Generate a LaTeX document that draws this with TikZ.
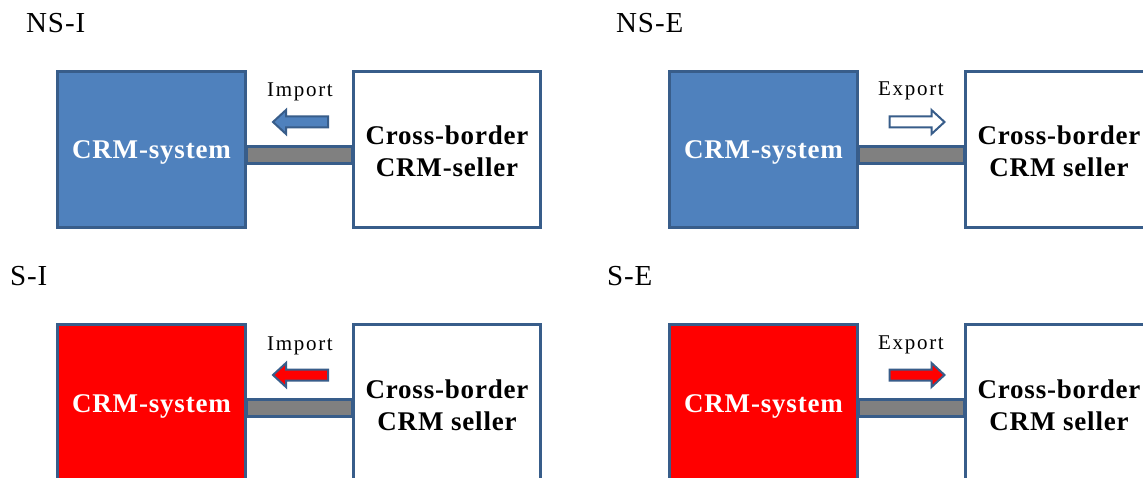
\documentclass[tikz,border=0pt]{standalone}
\usepackage{fontspec}
\setmainfont{Liberation Serif}
\definecolor{boxblue}{HTML}{4F81BD}
\definecolor{edgeblue}{HTML}{385D8A}
\definecolor{boxred}{HTML}{FF0000}
\definecolor{linkgray}{HTML}{808080}
\tikzset{
  sysbox/.style={draw=edgeblue, line width=3pt, minimum width=188pt, minimum height=156pt,
    inner sep=0pt, text=white, text height=19pt, text depth=0pt,
    font=\fontsize{27}{32}\selectfont\bfseries\addfontfeatures{LetterSpace=3}},
  sellerbox/.style={draw=edgeblue, fill=white, line width=3pt, minimum width=187pt, minimum height=156pt,
    inner sep=0pt, align=center, text height=55pt, text depth=0pt,
    font=\fontsize{27}{32}\selectfont\bfseries\addfontfeatures{LetterSpace=3}},
  link/.style={draw=edgeblue, fill=linkgray, line width=2.5pt},
  flowarrow/.style={draw=edgeblue, line width=2pt, line join=miter},
  flowlabel/.style={anchor=base, inner sep=0pt, font=\fontsize{21}{24}\selectfont\addfontfeatures{LetterSpace=8}},
  paneltitle/.style={anchor=base west, inner sep=0pt, font=\fontsize{29}{34}\selectfont\addfontfeatures{LetterSpace=3}},
  pics/leftarrow/.style={code={\draw[flowarrow, fill=#1] (-27.5,0) -- (-14.5,-12) -- (-14.5,-5.5) -- (27.5,-5.5) -- (27.5,5.5) -- (-14.5,5.5) -- (-14.5,12) -- cycle;}},
  pics/rightarrow/.style={code={\draw[flowarrow, fill=#1] (27.5,0) -- (14.5,-12) -- (14.5,-5.5) -- (-27.5,-5.5) -- (-27.5,5.5) -- (14.5,5.5) -- (14.5,12) -- cycle;}}
}
\begin{document}
\begin{tikzpicture}[x=1pt,y=-1pt]
\clip (0,0) rectangle (1143,478);
\fill[white] (0,0) rectangle (1143,478);

% titles
\node[paneltitle] (tnsi) at (26,33) {NS-I};
\node[paneltitle] (tnse) at (616,33) {NS-E};
\node[paneltitle] (tsi) at (10,286) {S-I};
\node[paneltitle] (tse) at (607,286) {S-E};

% NS-I
\begin{scope}
  \coordinate (ya1) at (0,146.5);
  \coordinate (yb1) at (0,163.5);
  \node[sysbox, fill=boxblue] (s1) at (151.5,149.5) {CRM-system};
  \node[sellerbox] (c1) at (447,149.5) {Cross-border\\CRM-seller};
  \draw[link] (s1.east |- ya1) rectangle (c1.west |- yb1);
  \pic at (300.5,122) {leftarrow=boxblue};
  \node[flowlabel] (l1) at (300,97) {Import};
\end{scope}

% NS-E
\begin{scope}[shift={(612,0)}]
  \coordinate (ya2) at (0,146.5);
  \coordinate (yb2) at (0,163.5);
  \node[sysbox, fill=boxblue] (s2) at (151.5,149.5) {CRM-system};
  \node[sellerbox] (c2) at (447,149.5) {Cross-border\\CRM seller};
  \draw[link] (s2.east |- ya2) rectangle (c2.west |- yb2);
  \pic at (305,122) {rightarrow=white};
  \node[flowlabel] (l2) at (299,96) {Export};
\end{scope}

% S-I
\begin{scope}[shift={(0,253)}]
  \coordinate (ya3) at (0,146.5);
  \coordinate (yb3) at (0,163.5);
  \node[sysbox, fill=boxred] (s3) at (151.5,149.5) {CRM-system};
  \node[sellerbox] (c3) at (447,149.5) {Cross-border\\CRM seller};
  \draw[link] (s3.east |- ya3) rectangle (c3.west |- yb3);
  \pic at (300.5,122) {leftarrow=boxred};
  \node[flowlabel] (l3) at (300,97) {Import};
\end{scope}

% S-E
\begin{scope}[shift={(612,253)}]
  \coordinate (ya4) at (0,146.5);
  \coordinate (yb4) at (0,163.5);
  \node[sysbox, fill=boxred] (s4) at (151.5,149.5) {CRM-system};
  \node[sellerbox] (c4) at (447,149.5) {Cross-border\\CRM seller};
  \draw[link] (s4.east |- ya4) rectangle (c4.west |- yb4);
  \pic at (305,122) {rightarrow=boxred};
  \node[flowlabel] (l4) at (299,96) {Export};
\end{scope}
\end{tikzpicture}
\end{document}
